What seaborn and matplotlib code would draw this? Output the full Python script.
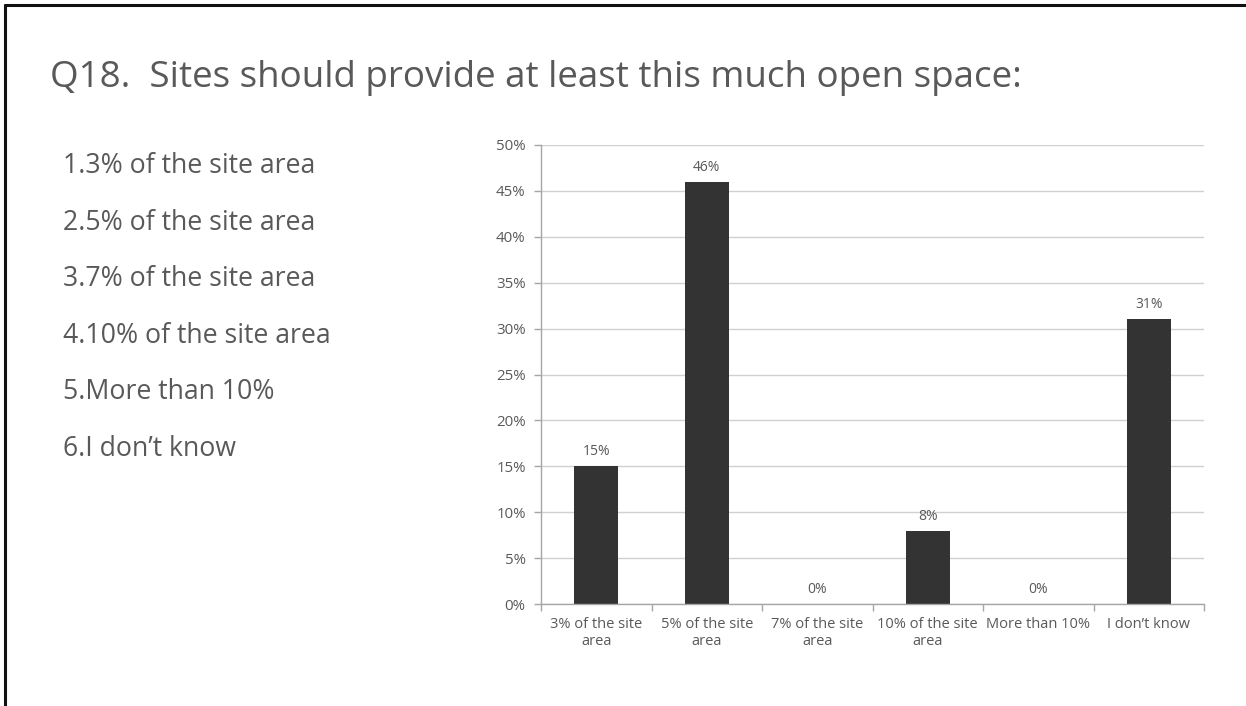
import matplotlib
matplotlib.use("Agg")
import matplotlib.pyplot as plt
from matplotlib.ticker import FixedLocator, FuncFormatter
from matplotlib.lines import Line2D
import seaborn as sns
import pandas as pd

# Survey answers and share of respondents (percent)
categories = ["3% of the site\narea", "5% of the site\narea", "7% of the site\narea",
              "10% of the site\narea", "More than 10%", "I don\u2019t know"]
shares = [15, 46, 0, 8, 0, 31]
y_ticks = [0, 5, 10, 15, 20, 25, 30, 35, 40, 45, 50]

title = "Q18.  Sites should provide at least this much open space:"
options = ["1.3% of the site area", "2.5% of the site area", "3.7% of the site area",
           "4.10% of the site area", "5.More than 10%", "6.I don\u2019t know"]

sns.set_theme(style="white")
plt.rcParams["font.family"] = ["Open Sans", "DejaVu Sans"]

TEXT = "#595959"
BAR = "#333333"
GRID = "#d0d0d0"

fig = plt.figure(figsize=(12.46, 7.06), dpi=100)
fig.patch.set_facecolor("white")

# slide frame: top and left rules
fig.add_artist(Line2D([5 / 1246, 1.0], [1 - 5 / 706, 1 - 5 / 706], color="#111111", lw=2.2,
                      transform=fig.transFigure))
fig.add_artist(Line2D([5 / 1246, 5 / 1246], [0.0, 1 - 5 / 706], color="#111111", lw=2.2,
                      transform=fig.transFigure))

fig.text(50 / 1246, 1 - 78 / 706, title, fontsize=26.5, color=TEXT, va="center", ha="left")

for i, opt in enumerate(options):
    fig.text(63 / 1246, 1 - (166 + i * 56.6) / 706, opt, fontsize=19.2, color=TEXT,
             va="center", ha="left")

ax = fig.add_axes([541 / 1246, 102 / 706, 663 / 1246, 459 / 706])
df = pd.DataFrame({"answer": categories, "share": shares})
sns.barplot(data=df, x="answer", y="share", color=BAR, width=0.4, saturation=1,
            linewidth=0, ax=ax)

ax.set_ylim(0, 50)
ax.set_xlim(-0.5, len(categories) - 0.5)
ax.yaxis.set_major_locator(FixedLocator(y_ticks))
ax.yaxis.set_major_formatter(FuncFormatter(lambda v, p: f"{int(v)}%"))
ax.set_xlabel("")
ax.set_ylabel("")
ax.grid(axis="y", color=GRID, lw=1)
ax.set_axisbelow(True)
for s in ["top", "right"]:
    ax.spines[s].set_visible(False)
for s in ["left", "bottom"]:
    ax.spines[s].set_color("#a6a6a6")
    ax.spines[s].set_linewidth(1)

ax.tick_params(axis="y", which="major", length=5, width=1, color="#a6a6a6",
               labelsize=10.8, labelcolor=TEXT, left=True, pad=6)
ax.tick_params(axis="x", which="major", length=0, labelsize=10.5, labelcolor=TEXT, pad=9)
# category separators on the x axis
ax.xaxis.set_minor_locator(FixedLocator([i - 0.5 for i in range(len(categories) + 1)]))
ax.tick_params(axis="x", which="minor", length=5, width=1, color="#a6a6a6", bottom=True)

for container in ax.containers:
    ax.bar_label(container, labels=[f"{v}%" for v in shares], padding=5, fontsize=10,
                 color=TEXT)

fig.savefig("out.png", dpi=100, facecolor="white")
